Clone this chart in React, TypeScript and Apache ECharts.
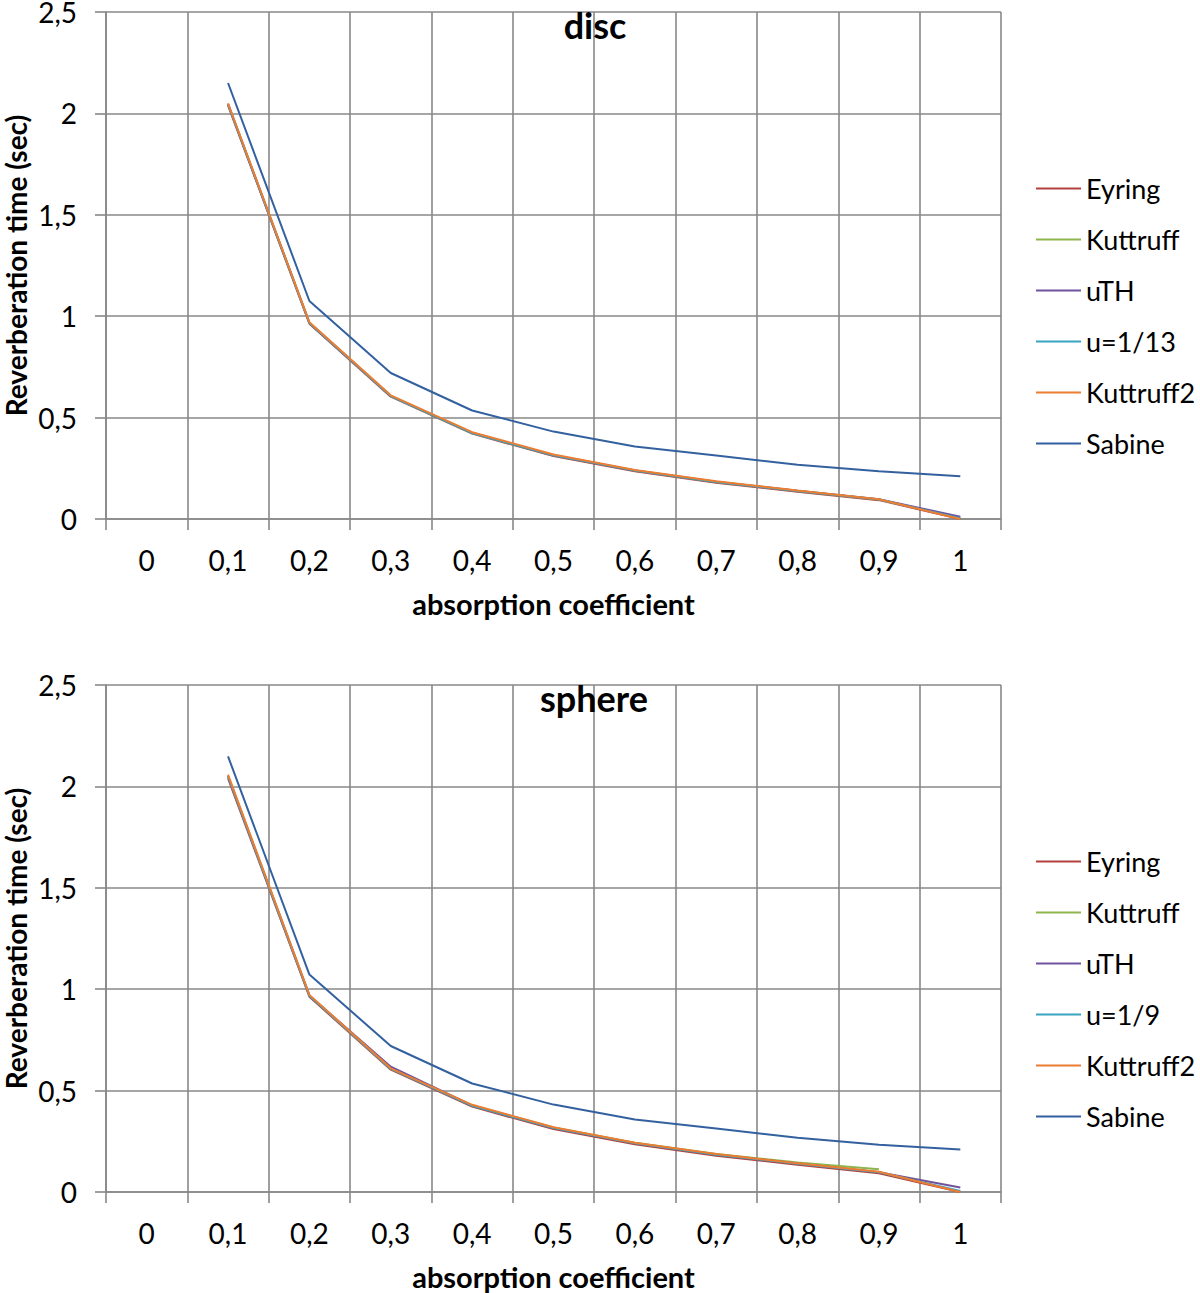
import React, { useEffect, useRef } from "react";
import * as echarts from "echarts";

const categories = ["0", "0,1", "0,2", "0,3", "0,4", "0,5", "0,6", "0,7", "0,8", "0,9", "1"];
const yTicks = [0, 0.5, 1, 1.5, 2, 2.5];

const seriesNamesDisc = ["Eyring", "Kuttruff", "uTH", "u=1/13", "Kuttruff2", "Sabine"];
const seriesNamesSphere = ["Eyring", "Kuttruff", "uTH", "u=1/9", "Kuttruff2", "Sabine"];
const seriesColors = ["#B3403D", "#8DB54E", "#6F539E", "#39A3C0", "#EC7D31", "#33619F"];

// disc
const discEyring = [null, 2.04, 0.963, 0.603, 0.421, 0.31, 0.235, 0.179, 0.134, 0.093, 0];
const discKuttruff = [null, 2.045, 0.967, 0.606, 0.424, 0.314, 0.239, 0.183, 0.138, 0.096, 0.004];
const discUTH = [null, 2.045, 0.967, 0.607, 0.425, 0.314, 0.239, 0.184, 0.139, 0.098, 0.011];
const discU13 = [null, 2.045, 0.967, 0.606, 0.424, 0.314, 0.239, 0.183, 0.138, 0.096, 0.004];
const discKuttruff2 = [null, 2.05, 0.97, 0.61, 0.428, 0.318, 0.242, 0.186, 0.14, 0.097, 0];
const discSabine = [null, 2.15, 1.075, 0.72, 0.535, 0.431, 0.357, 0.313, 0.268, 0.235, 0.211];

// sphere
const sphereEyring = [null, 2.04, 0.963, 0.603, 0.421, 0.31, 0.235, 0.179, 0.134, 0.092, 0];
const sphereKuttruff = [null, 2.05, 0.968, 0.608, 0.427, 0.318, 0.243, 0.188, 0.145, 0.112, null];
const sphereUTH = [null, 2.05, 0.968, 0.618, 0.427, 0.316, 0.241, 0.185, 0.14, 0.097, 0.022];
const sphereU9 = [null, 2.05, 0.968, 0.607, 0.425, 0.315, 0.24, 0.184, 0.139, 0.097, 0.005];
const sphereKuttruff2 = [null, 2.058, 0.972, 0.61, 0.43, 0.319, 0.243, 0.187, 0.142, 0.1, 0];
const sphereSabine = [null, 2.148, 1.072, 0.72, 0.535, 0.431, 0.357, 0.313, 0.268, 0.233, 0.21];

const discData = [discEyring, discKuttruff, discUTH, discU13, discKuttruff2, discSabine];
const sphereData = [sphereEyring, sphereKuttruff, sphereUTH, sphereU9, sphereKuttruff2, sphereSabine];

const FONT = "Lato";
const GRID_COLOR = "#888888";

function makeXAxis(gridIndex: number) {
  return {
    type: "category",
    gridIndex,
    data: categories,
    boundaryGap: true,
    name: "absorption coefficient",
    nameLocation: "middle",
    nameGap: 70,
    nameMoveOverlap: false,
    nameTextStyle: { fontSize: 29, fontWeight: "bold", color: "#000", fontFamily: FONT },
    axisLine: { show: true, lineStyle: { color: GRID_COLOR, width: 1.6 } },
    axisTick: { show: true, length: 11, interval: 0, lineStyle: { color: GRID_COLOR, width: 1.6 } },
    axisLabel: { interval: 0, margin: 27, fontSize: 28, color: "#000", fontFamily: FONT },
    splitLine: { show: true, interval: 0, lineStyle: { color: GRID_COLOR, width: 1.6 } },
  };
}

function makeYAxis(gridIndex: number) {
  return {
    type: "value",
    gridIndex,
    min: yTicks[0],
    max: yTicks[yTicks.length - 1],
    interval: 0.5,
    name: "Reverberation time (sec)",
    nameLocation: "middle",
    nameGap: 76,
    nameMoveOverlap: false,
    nameTextStyle: { fontSize: 28, fontWeight: "bold", color: "#000", fontFamily: FONT },
    axisLine: { show: true, lineStyle: { color: GRID_COLOR, width: 1.6 } },
    axisTick: { show: true, length: 11, lineStyle: { color: GRID_COLOR, width: 1.6 } },
    axisLabel: {
      margin: 29,
      fontSize: 28,
      color: "#000",
      fontFamily: FONT,
      formatter: (v: number) => String(v).replace(".", ","),
    },
    splitLine: { show: true, lineStyle: { color: GRID_COLOR, width: 1.6 } },
  };
}

function makeSeries(names: string[], data: (number | null)[][], gridIndex: number) {
  return names.map((name, i) => ({
    type: "line",
    name,
    xAxisIndex: gridIndex,
    yAxisIndex: gridIndex,
    data: data[i],
    symbol: "none",
    showSymbol: false,
    connectNulls: false,
    color: seriesColors[i],
    lineStyle: { color: seriesColors[i], width: 2 },
    itemStyle: { color: seriesColors[i] },
    z: 2 + i,
  }));
}

function makeLegend(names: string[], top: number) {
  return {
    orient: "vertical",
    left: 1036,
    top,
    padding: 0,
    data: names.map((n) => ({ name: n, icon: "rect" })),
    itemWidth: 45,
    itemHeight: 2,
    itemGap: 24,
    selectedMode: false,
    textStyle: { fontSize: 27, color: "#000", fontFamily: FONT, lineHeight: 27 },
  };
}

export default function App() {
  const ref = useRef<HTMLDivElement>(null);
  useEffect(() => {
    document.body.style.margin = "0";
    if (!ref.current) return;
    const chart = echarts.init(ref.current, null, { renderer: "svg" });
    chart.setOption({
      animation: false,
      backgroundColor: "#ffffff",
      textStyle: { fontFamily: FONT },
      grid: [
        { left: 106, top: 12, width: 895, height: 507, outerBoundsMode: "none", containLabel: false },
        { left: 106, top: 685, width: 895, height: 507, outerBoundsMode: "none", containLabel: false },
      ],
      xAxis: [makeXAxis(0), makeXAxis(1)],
      yAxis: [makeYAxis(0), makeYAxis(1)],
      legend: [makeLegend(seriesNamesDisc, 175), makeLegend(seriesNamesSphere, 848)],
      series: [...makeSeries(seriesNamesDisc, discData, 0), ...makeSeries(seriesNamesSphere, sphereData, 1)],
      graphic: [
        {
          type: "text",
          x: 595,
          y: 25,
          z: 100,
          style: {
            text: "disc",
            fontSize: 36,
            fontWeight: "bold",
            fontFamily: FONT,
            fill: "#000",
            align: "center",
            verticalAlign: "middle",
            textAlign: "center",
            textVerticalAlign: "middle",
          },
        },
        {
          type: "text",
          x: 594,
          y: 698,
          z: 100,
          style: {
            text: "sphere",
            fontSize: 36,
            fontWeight: "bold",
            fontFamily: FONT,
            fill: "#000",
            align: "center",
            verticalAlign: "middle",
            textAlign: "center",
            textVerticalAlign: "middle",
          },
        },
      ],
    });
    return () => chart.dispose();
  }, []);
  return <div ref={ref} style={{ width: 1200, height: 1293 }} />;
}
